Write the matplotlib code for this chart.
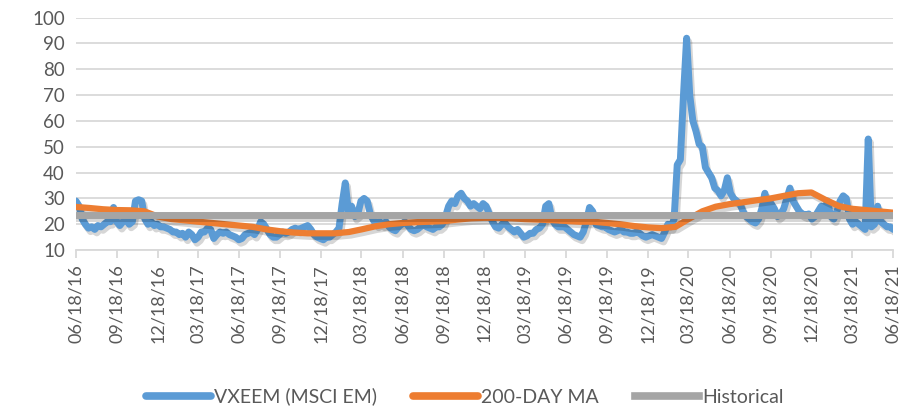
import matplotlib
matplotlib.use("Agg")
import matplotlib.pyplot as plt
import matplotlib.patheffects as pe
import pandas as pd

# ---- data ----
vxeem_start = "2016-06-18"
vxeem = [
    29, 27, 22, 20, 18.5, 19, 18, 19.5, 19, 20,
    21, 21, 26.5, 21, 19.5, 21, 22, 20, 21, 29,
    29.5, 29, 22, 20, 21, 19.5, 20, 19, 19, 18.5,
    18, 17, 17, 16, 16.5, 15, 17, 16, 14, 15,
    17, 17, 18.5, 18, 14.5, 16, 17, 16.5, 17, 16,
    15.5, 15, 14, 14.5, 16, 16.5, 17, 16, 18, 21,
    20, 18, 16, 15, 15, 16, 17, 16.5, 17, 18,
    18.5, 18, 18.5, 19, 19.5, 18, 16, 15, 14.5, 14,
    15, 15, 16, 17, 18.5, 28, 36, 25, 27, 23,
    24, 29, 30, 29, 24, 21.5, 20, 21, 20, 21,
    19, 18, 17.5, 19, 20, 21, 19.5, 18, 17.5, 18,
    19, 20, 19, 18.5, 18, 19, 19, 20, 23, 27,
    29, 28, 31, 32, 30, 29, 27, 28, 27, 26,
    28, 27, 24, 21, 19, 18.5, 20, 20.5, 19, 18,
    17, 18, 16.5, 15, 15.5, 16.5, 16.5, 18, 18.5, 20,
    27, 28, 22, 20, 19, 19, 19, 18, 17, 16,
    15.5, 15, 17, 21, 26.5, 25, 20, 19.5, 19, 19,
    18, 17.5, 17, 17.5, 18, 17, 17, 16.5, 16.5, 17,
    16.5, 15.5, 15, 15.5, 16, 15.5, 15, 14.5, 17, 20,
    19, 22, 43, 45, 70, 92, 70, 60, 56, 51,
    50, 42, 40, 38, 34, 33, 31, 33, 38, 32,
    30, 29, 28, 25, 23, 22, 21, 20.5, 22, 26,
    32, 25, 28, 26, 23, 24, 26, 30, 34, 29,
    27, 25, 24, 23.5, 24, 22, 23, 25, 27, 25,
    29, 23, 22, 25, 29, 31, 30, 22, 20, 21,
    20, 19, 18, 53, 19, 20, 27, 21, 20, 19,
    19, 18,
]
ma200 = [
    26.7, 26.3, 25.8, 25.5, 25.4, 25, 23, 22, 21.5, 21,
    20.5, 20, 19.5, 19, 18, 17.3, 16.8, 16.5, 16.5, 16.5,
    17, 18, 19.2, 20, 20.5, 20.8, 21, 21.2, 21.8, 22.3,
    22.5, 22.5, 22.3, 22, 21.8, 21.6, 21.3, 21, 21, 20.5,
    20, 19.3, 18.8, 18.5, 19, 22, 25, 26.8, 27.8, 28.5,
    29.3, 30, 31, 32, 32.3, 29.5, 27, 26, 25.5, 25,
    24.5,
]
historical_value = 23.6
tick_labels = ["06/18/16", "09/18/16", "12/18/16", "03/18/17", "06/18/17",
               "09/18/17", "12/18/17", "03/18/18", "06/18/18", "09/18/18",
               "12/18/18", "03/18/19", "06/18/19", "09/18/19", "12/18/19",
               "03/18/20", "06/18/20", "09/18/20", "12/18/20", "03/18/21",
               "06/18/21"]
series_names = ["VXEEM (MSCI EM)", "200-DAY MA", "Historical"]

# ---- derived positions ----
v_dates = pd.date_range(vxeem_start, periods=len(vxeem), freq="7D")
ma_dates = pd.date_range(vxeem_start, periods=len(ma200), freq=pd.DateOffset(months=1))
tick_dates = pd.to_datetime(tick_labels, format="%m/%d/%y")
x0, x1 = tick_dates[0], tick_dates[-1]

plt.rcParams['font.family'] = ['Lato', 'DejaVu Sans']

fig = plt.figure(figsize=(9.12, 4.08), dpi=100)
ax = fig.add_axes([0.0833, 0.387, 0.8957, 0.570])

blue = "#5b9bd5"
orange = "#ed7d31"
gray = "#a5a5a5"
shadow = [pe.SimpleLineShadow(offset=(1.5, -2.5), shadow_color="#000000", alpha=0.16),
          pe.Normal()]

ax.plot(v_dates, vxeem, color=blue, lw=5, solid_joinstyle="round",
        solid_capstyle="round", path_effects=shadow, label=series_names[0], zorder=3)
ax.plot(ma_dates, ma200, color=orange, lw=4.5, solid_joinstyle="round",
        solid_capstyle="round", path_effects=shadow, label=series_names[1], zorder=4)
ax.plot([x0, x1], [historical_value, historical_value], color=gray, lw=5,
        path_effects=shadow, label=series_names[2], zorder=5)

ax.set_xlim(x0, x1)
ax.set_ylim(10, 100)
ax.set_yticks(range(10, 101, 10))
ax.set_xticks(tick_dates)
ax.set_xticklabels(tick_labels, rotation=90)

for s in ["top", "right", "left"]:
    ax.spines[s].set_visible(False)
ax.spines["bottom"].set_color("#d9d9d9")
ax.spines["bottom"].set_linewidth(1.3)
ax.grid(axis="y", color="#d9d9d9", lw=1.3)
ax.set_axisbelow(True)
ax.tick_params(axis="y", length=0, labelsize=13.5, labelcolor="#595959", pad=8)
ax.tick_params(axis="x", length=6, width=1.3, color="#d9d9d9", labelsize=13,
               labelcolor="#595959", pad=4)

leg = fig.legend(loc="center", bbox_to_anchor=(0.51, 0.028), ncol=3, frameon=False,
                 fontsize=14, handlelength=3.3, columnspacing=1.9, handletextpad=0.15)
for t in leg.get_texts():
    t.set_color("#595959")
for h in leg.get_lines():
    h.set_linewidth(5.5)
    h.set_path_effects([])

fig.savefig("out.png", dpi=100)
